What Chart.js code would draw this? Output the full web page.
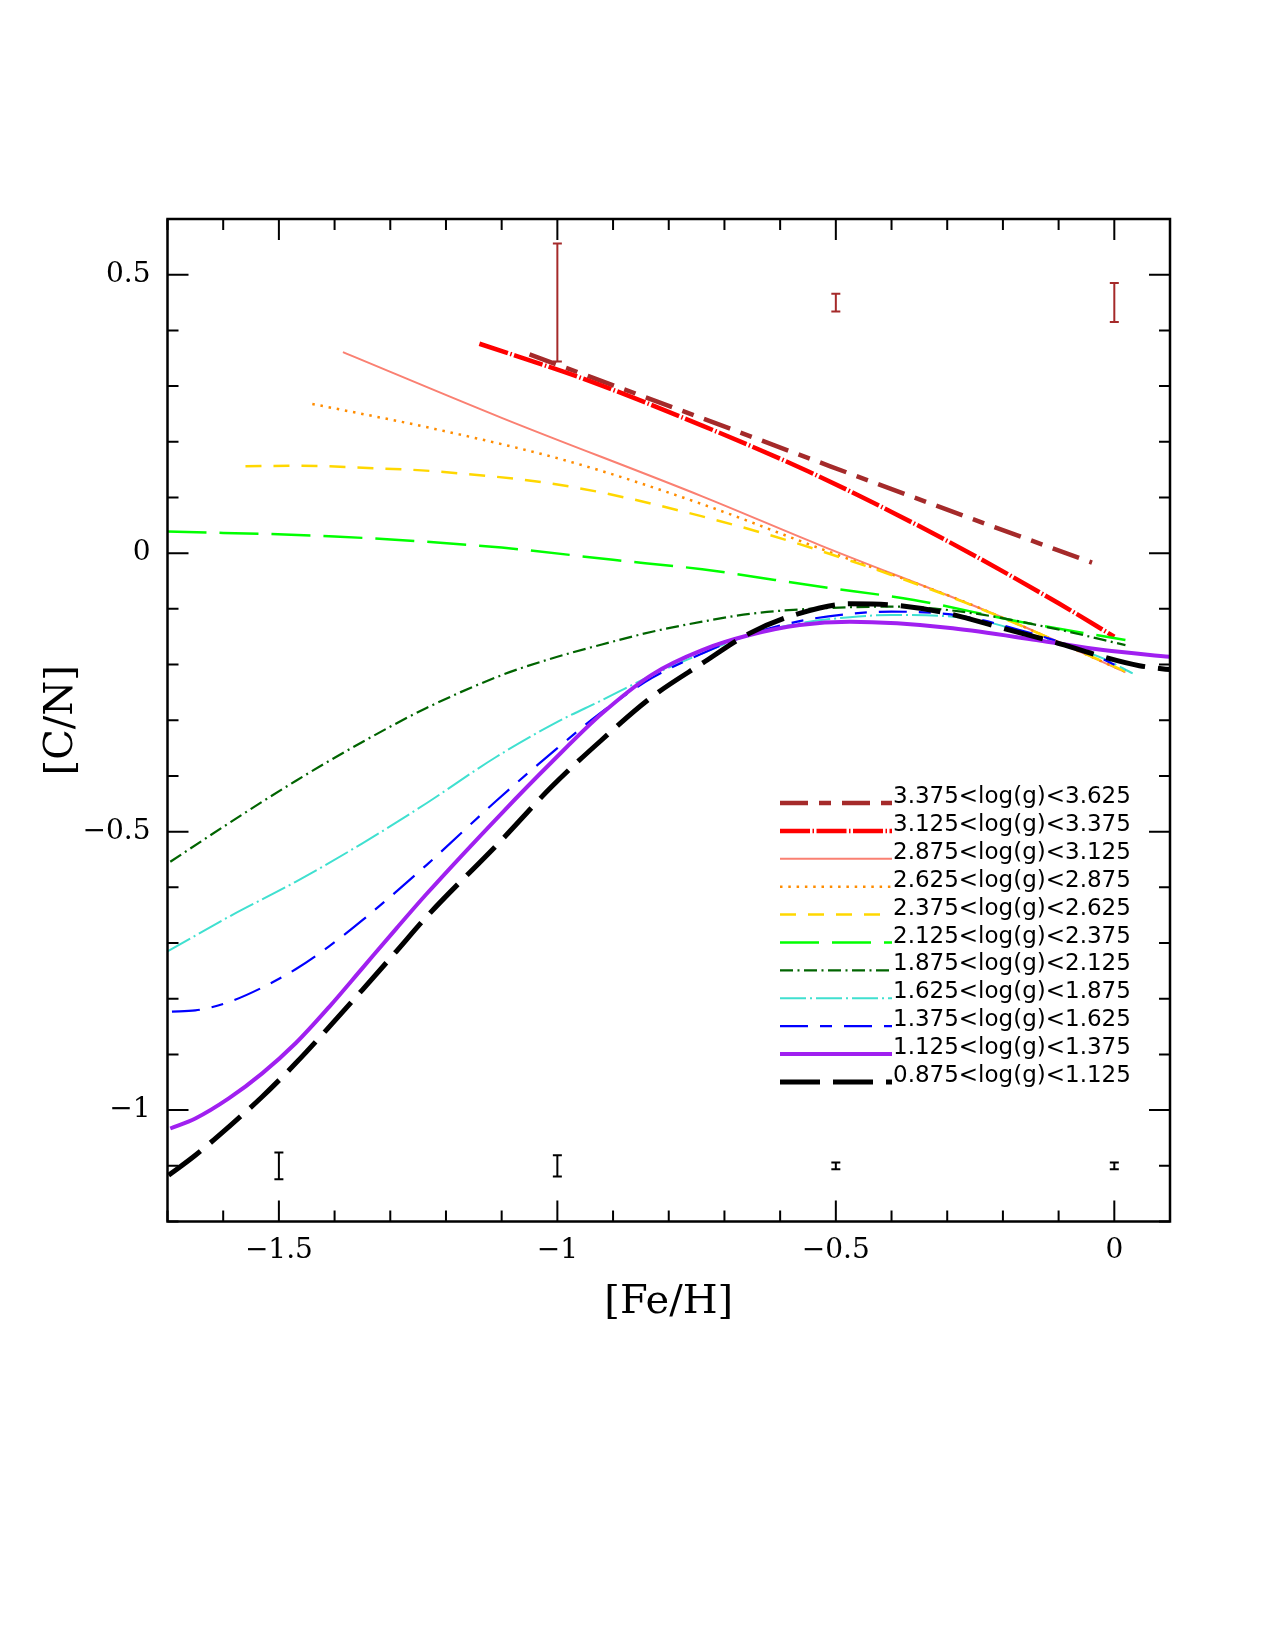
<!DOCTYPE html>
<html lang="en">

<head>
  <meta charset="UTF-8" />
  <title>[C/N] vs [Fe/H]</title>
  <style>
    * {
      margin: 0;
      padding: 0;
    }

    body {
      background: #ffffff;
    }

    .chartBox {
      width: 1275px;
      height: 1650px;
    }
  </style>
</head>

<body>
  <div class="chartBox">
    <canvas id="myChart"></canvas>
  </div>
  <script src="https://cdn.jsdelivr.net/npm/chart.js@4.4.1/dist/chart.umd.min.js"></script>
  <script>
    // legend labels, top to bottom
    const labels = [
      "3.375<log(g)<3.625",
      "3.125<log(g)<3.375",
      "2.875<log(g)<3.125",
      "2.625<log(g)<2.875",
      "2.375<log(g)<2.625",
      "2.125<log(g)<2.375",
      "1.875<log(g)<2.125",
      "1.625<log(g)<1.875",
      "1.375<log(g)<1.625",
      "1.125<log(g)<1.375",
      "0.875<log(g)<1.125"
    ];

    // [Fe/H] and [C/N] for each log(g) bin
    const fehA = [-1.05, -0.75, -0.51, -0.27, -0.04];
    const cnA = [0.357, 0.246, 0.156, 0.067, -0.017];

    const fehB = [-1.14, -0.95, -0.74, -0.55, -0.40, -0.25, -0.10, 0.0];
    const cnB = [0.376, 0.312, 0.229, 0.147, 0.074, -0.005, -0.090, -0.150];

    const fehC = [-1.385, -1.1, -0.74, -0.53, -0.19, 0.02];
    const cnC = [0.361, 0.243, 0.102, 0.015, -0.120, -0.214];

    const fehD = [-1.44, -1.22, -0.98, -0.74, -0.53, -0.27, 0.02];
    const cnD = [0.268, 0.223, 0.165, 0.088, 0.009, -0.087, -0.213];

    const fehE = [-1.56, -1.46, -1.34, -1.22, -0.98, -0.74, -0.53, -0.27, 0.02];
    const cnE = [0.156, 0.157, 0.153, 0.147, 0.120, 0.066, 0.005, -0.088, -0.212];

    const fehF = [-1.70, -1.40, -1.10, -0.90, -0.74, -0.53, -0.36, -0.17, 0.02];
    const cnF = [0.039, 0.030, 0.010, -0.012, -0.029, -0.060, -0.084, -0.123, -0.156];

    const fehG = [-1.695, -1.59, -1.47, -1.35, -1.235, -1.10, -1.0, -0.92, -0.83, -0.74, -0.655, -0.565, -0.47, -0.39, -0.26, -0.11, 0.02];
    const cnG = [-0.554, -0.485, -0.409, -0.339, -0.278, -0.219, -0.186, -0.164, -0.141, -0.123, -0.109, -0.101, -0.097, -0.096, -0.107, -0.135, -0.165];

    const fehH = [-1.70, -1.59, -1.47, -1.35, -1.235, -1.11, -1.0, -0.92, -0.83, -0.74, -0.655, -0.565, -0.475, -0.40, -0.26, -0.14, -0.02, 0.033];
    const cnH = [-0.715, -0.653, -0.590, -0.521, -0.449, -0.366, -0.303, -0.264, -0.219, -0.180, -0.147, -0.126, -0.115, -0.111, -0.117, -0.150, -0.189, -0.216];

    const fehI = [-1.692, -1.65, -1.59, -1.53, -1.47, -1.41, -1.35, -1.235, -1.11, -1.0, -0.92, -0.83, -0.74, -0.655, -0.565, -0.475, -0.40, -0.28, -0.17, -0.05, 0.02];
    const cnI = [-0.823, -0.821, -0.806, -0.780, -0.747, -0.706, -0.659, -0.560, -0.445, -0.350, -0.285, -0.224, -0.180, -0.146, -0.122, -0.109, -0.105, -0.112, -0.138, -0.177, -0.210];

    const fehJ = [-1.695, -1.65, -1.59, -1.53, -1.47, -1.41, -1.35, -1.29, -1.235, -1.10, -1.01, -0.92, -0.83, -0.74, -0.655, -0.565, -0.475, -0.39, -0.29, -0.14, -0.02, 0.1];
    const cnJ = [-1.033, -1.015, -0.979, -0.934, -0.880, -0.815, -0.745, -0.675, -0.612, -0.467, -0.375, -0.288, -0.218, -0.174, -0.147, -0.129, -0.123, -0.126, -0.135, -0.156, -0.174, -0.186];

    const fehK = [-1.698, -1.65, -1.59, -1.53, -1.47, -1.41, -1.35, -1.29, -1.235, -1.10, -1.01, -0.92, -0.83, -0.74, -0.655, -0.565, -0.475, -0.40, -0.30, -0.20, -0.11, -0.02, 0.045, 0.1];
    const cnK = [-1.117, -1.081, -1.030, -0.976, -0.916, -0.851, -0.784, -0.716, -0.653, -0.515, -0.419, -0.335, -0.258, -0.198, -0.144, -0.108, -0.091, -0.093, -0.108, -0.135, -0.159, -0.186, -0.202, -0.209];

    // error bars: position, centre, half length
    const errTopX = [-1, -0.5, 0];
    const errTopY = [0.45, 0.45, 0.45];
    const errTopE = [0.106, 0.016, 0.035];
    const errBotX = [-1.5, -1, -0.5, 0];
    const errBotY = [-1.1, -1.1, -1.1, -1.1];
    const errBotE = [0.024, 0.019, 0.006, 0.006];

    const xTicks = [-1.5, -1, -0.5, 0];
    const yTicks = [-1, -0.5, 0, 0.5];

    const fehs = [fehA, fehB, fehC, fehD, fehE, fehF, fehG, fehH, fehI, fehJ, fehK];
    const cns = [cnA, cnB, cnC, cnD, cnE, cnF, cnG, cnH, cnI, cnJ, cnK];

    const colors = ["#a52a2a", "#ff0000", "#fa8072", "#ff8c00", "#ffd700", "#00ff00",
      "#006400", "#40e0d0", "#0000ff", "#a020f0", "#000000"];
    const widths = [4.5, 4.5, 2, 2.5, 2.5, 2.5, 2.2, 2, 2.2, 4, 5];
    const dashes = [
      [28, 11, 12, 11],
      [30, 2.5, 1.5, 2.5],
      [],
      [2.5, 5.8],
      [16, 12],
      [39, 13],
      [13, 4.5, 2, 4.5],
      [26, 4, 2, 4],
      [28, 12, 12, 12],
      [],
      [40, 13]
    ];

    function toPoints(xs, ys) {
      return xs.map((x, i) => ({ x: x, y: ys[i] }));
    }

    const datasets = [];
    for (let i = 0; i < labels.length; i++) {
      datasets.push({
        label: labels[i],
        data: toPoints(fehs[i], cns[i]),
        showLine: true,
        borderColor: colors[i],
        borderWidth: widths[i],
        borderDash: dashes[i],
        pointRadius: 0,
        cubicInterpolationMode: "monotone",
        order: 20 - i
      });
    }

    function errorBar(x, y, e, color) {
      return {
        label: "err",
        data: [{ x: x, y: y - e }, { x: x, y: y + e }],
        showLine: true,
        borderColor: color,
        borderWidth: 2,
        pointStyle: "line",
        pointRadius: 4.5,
        pointBorderWidth: 2,
        pointBorderColor: color,
        order: 0
      };
    }

    for (let i = 0; i < errTopX.length; i++) {
      datasets.push(errorBar(errTopX[i], errTopY[i], errTopE[i], "#a52a2a"));
    }
    for (let i = 0; i < errBotX.length; i++) {
      datasets.push(errorBar(errBotX[i], errBotY[i], errBotE[i], "#000000"));
    }

    function minus(v) {
      return v < 0 ? "\u2212" + Math.abs(v) : String(v);
    }

    // frame with inward ticks on all four sides
    const frame = {
      id: "frame",
      afterDatasetsDraw(chart) {
        const { ctx, chartArea: a, scales: { x, y } } = chart;
        ctx.save();
        ctx.strokeStyle = "#000";
        ctx.lineWidth = 2;
        for (let k = -17; k <= 1; k++) {
          const v = k / 10;
          const len = k % 5 === 0 ? 21 : 11;
          const px = x.getPixelForValue(v);
          ctx.beginPath();
          ctx.moveTo(px, a.bottom);
          ctx.lineTo(px, a.bottom - len);
          ctx.moveTo(px, a.top);
          ctx.lineTo(px, a.top + len);
          ctx.stroke();
        }
        for (let k = -12; k <= 6; k++) {
          const v = k / 10;
          const len = k % 5 === 0 ? 21 : 11;
          const py = y.getPixelForValue(v);
          ctx.beginPath();
          ctx.moveTo(a.left, py);
          ctx.lineTo(a.left + len, py);
          ctx.moveTo(a.right, py);
          ctx.lineTo(a.right - len, py);
          ctx.stroke();
        }
        ctx.lineWidth = 2.5;
        ctx.strokeRect(a.left, a.top, a.right - a.left, a.bottom - a.top);
        ctx.restore();
      }
    };

    // legend drawn inside the plot
    const lineLegend = {
      id: "lineLegend",
      afterDatasetsDraw(chart) {
        const ctx = chart.ctx;
        const x0 = 780, x1 = 892, y0 = 803, dy = 27.9;
        ctx.save();
        ctx.font = "23px 'DejaVu Sans'";
        ctx.textAlign = "left";
        ctx.textBaseline = "alphabetic";
        for (let i = 0; i < labels.length; i++) {
          const ds = chart.data.datasets[i];
          const yy = y0 + dy * i;
          ctx.beginPath();
          ctx.setLineDash(ds.borderDash);
          ctx.lineWidth = ds.borderWidth;
          ctx.strokeStyle = ds.borderColor;
          ctx.moveTo(x0, yy);
          ctx.lineTo(x1, yy);
          ctx.stroke();
          ctx.setLineDash([]);
          ctx.fillStyle = "#000";
          ctx.fillText(labels[i], x1 + 1, yy);
        }
        ctx.restore();
      }
    };

    const options = {
      responsive: true,
      maintainAspectRatio: false,
      devicePixelRatio: 1,
      animation: false,
      layout: {
        padding: { left: 0, right: 105, top: 219, bottom: 0 }
      },
      scales: {
        x: {
          type: "linear",
          min: -1.7,
          max: 0.1,
          afterFit: function (scale) { scale.height = 428.5; },
          afterBuildTicks: function (scale) {
            scale.ticks = xTicks.map(v => ({ value: v }));
          },
          border: { display: false },
          grid: { display: false, drawTicks: false },
          ticks: {
            padding: 12,
            color: "#000",
            font: { family: "'DejaVu Serif'", size: 28 },
            maxRotation: 0,
            callback: minus
          },
          title: {
            display: true,
            text: "[Fe/H]",
            color: "#000",
            font: { family: "'DejaVu Serif'", size: 40 },
            padding: { top: 0, bottom: 323 }
          }
        },
        y: {
          type: "linear",
          min: -1.2,
          max: 0.6,
          afterFit: function (scale) { scale.width = 167.5; },
          afterBuildTicks: function (scale) {
            scale.ticks = yTicks.map(v => ({ value: v }));
          },
          border: { display: false },
          grid: { display: false, drawTicks: false },
          ticks: {
            padding: 17,
            color: "#000",
            font: { family: "'DejaVu Serif'", size: 28 },
            callback: minus
          },
          title: {
            display: true,
            text: "[C/N]",
            color: "#000",
            font: { family: "'DejaVu Serif'", size: 40 },
            padding: { top: 38, bottom: 0 }
          }
        }
      },
      plugins: {
        legend: { display: false },
        tooltip: { enabled: false }
      }
    };

    const config = {
      type: "scatter",
      data: { datasets: datasets },
      options: options,
      plugins: [frame, lineLegend]
    };

    const ctx = document.getElementById("myChart").getContext("2d");
    const myChart = new Chart(ctx, config);
  </script>
</body>

</html>
